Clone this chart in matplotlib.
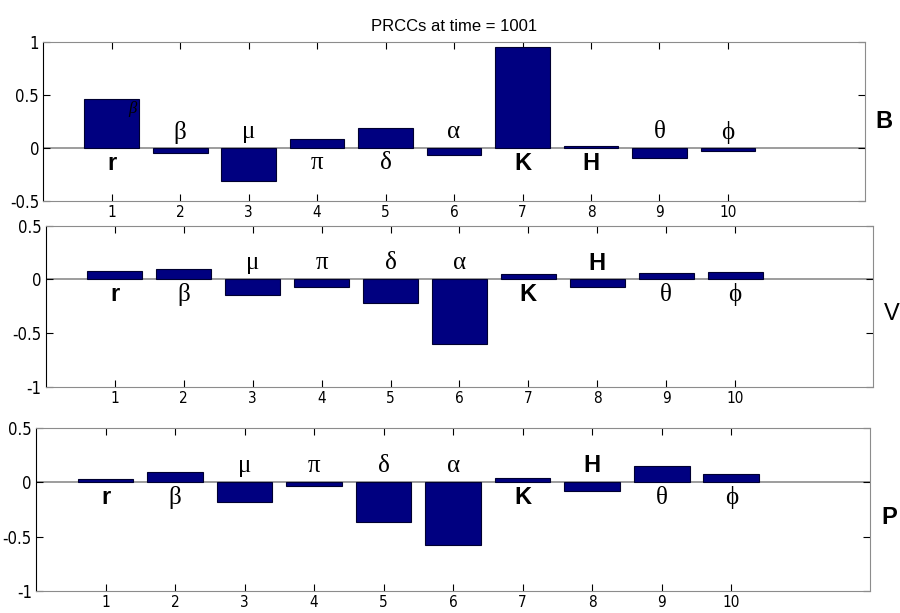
import numpy as np
import matplotlib
matplotlib.use('Agg')
import matplotlib.pyplot as plt

# parameter index and names
params = np.arange(1, 11)
names = ['r', 'β', 'μ', 'π', 'δ', 'α', 'K', 'H', 'θ', 'ϕ']

# PRCC values per output
prcc_B = [0.46, -0.044, -0.307, 0.082, 0.187, -0.066, 0.956, 0.016, -0.092, -0.025]
prcc_V = [0.081, 0.093, -0.146, -0.068, -0.224, -0.600, 0.047, -0.068, 0.062, 0.071]
prcc_P = [0.030, 0.091, -0.182, -0.036, -0.364, -0.579, 0.036, -0.082, 0.145, 0.079]

# label placement: +1 above zero line, -1 below
side_B = [-1, 1, 1, -1, -1, 1, -1, -1, 1, 1]
side_V = [-1, -1, 1, 1, 1, 1, -1, 1, -1, -1]
side_P = [-1, -1, 1, 1, 1, 1, -1, 1, -1, -1]

outputs = ['B', 'V', 'P']
ylims = [(-0.5, 1), (-1, 0.5), (-1, 0.5)]
yticks = [[-0.5, 0, 0.5, 1], [-1, -0.5, 0, 0.5], [-1, -0.5, 0, 0.5]]
ytlabels = [['-0.5', '0', '0.5', '1'], ['-1', '-0.5', '0', '0.5'], ['-1', '-0.5', '0', '0.5']]

narrow = ['DejaVu Sans', 'Liberation Sans']
navy = (0, 0, 0.5)
gray = '#8c8c8c'

fig = plt.figure(figsize=(9, 6.13), dpi=100)
boxes = [[0.048, 0.672, 0.913, 0.259],
         [0.051, 0.369, 0.919, 0.263],
         [0.040, 0.036, 0.927, 0.266]]

for i, (vals, sides, name) in enumerate(zip([prcc_B, prcc_V, prcc_P],
                                            [side_B, side_V, side_P], outputs)):
    ax = fig.add_axes(boxes[i])
    ax.bar(params, vals, width=0.8, color=navy, edgecolor='#000030', linewidth=0.8, zorder=2)
    ax.axhline(0, color=gray, linewidth=1.2, zorder=1)
    ax.set_xlim(0, 12)
    ax.set_ylim(*ylims[i])
    ax.set_xticks(params)
    ax.set_xticklabels([str(p) for p in params], family=narrow, stretch='condensed', fontsize=11)
    ax.set_yticks(yticks[i])
    ax.set_yticklabels(ytlabels[i], family=narrow, stretch='condensed', fontsize=12)
    ax.tick_params(direction='in', length=5, width=0.8, top=True, right=True, pad=3)
    for sp in ['top', 'bottom', 'right']:
        ax.spines[sp].set_color(gray)
    ax.spines['left'].set_color('black')

    span = ylims[i][1] - ylims[i][0]
    for x, lab, s in zip(params, names, sides):
        y = 0.1 * span if s > 0 else -0.095 * span
        if lab in ('r', 'K', 'H'):
            ax.text(x, y, lab, ha='center', va='center', fontsize=17,
                    fontweight='bold', family=['Liberation Sans', 'DejaVu Sans'])
        else:
            ax.text(x, y, lab, ha='center', va='center', fontsize=18,
                    family=['Liberation Serif', 'DejaVu Serif'])

    ax.text(1.013, 0.5 if i == 0 else 0.45, name, transform=ax.transAxes,
            fontsize=17, fontweight='normal' if name == 'V' else 'bold',
            family=['Liberation Sans', 'DejaVu Sans'], ha='left', va='center')

    if i == 0:
        ax.set_title('PRCCs at time = 1001', fontsize=12,
                     family=['Liberation Sans', 'DejaVu Sans'], pad=8)
        # stray italic beta on the first bar
        ax.text(1.3, 0.37, 'β', fontsize=12, style='italic',
                family=['Liberation Serif', 'DejaVu Serif'], ha='center', va='center')

fig.savefig('out.png', dpi=100)
